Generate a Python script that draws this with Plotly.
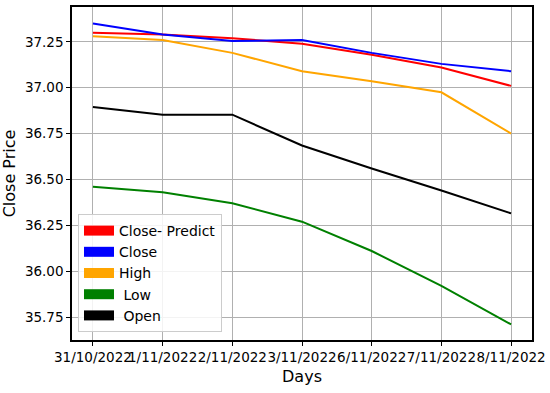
import plotly.graph_objects as go

days = ["31/10/2022", "1/11/2022", "2/11/2022", "3/11/2022",
        "6/11/2022", "7/11/2022", "8/11/2022"]

close_predict = [37.30, 37.29, 37.27, 37.24, 37.18, 37.11, 37.01]
close = [37.35, 37.29, 37.255, 37.26, 37.19, 37.13, 37.09]
high = [37.28, 37.26, 37.19, 37.09, 37.035, 36.975, 36.75]
low = [36.46, 36.43, 36.37, 36.27, 36.11, 35.92, 35.71]
open_ = [36.895, 36.853, 36.853, 36.685, 36.56, 36.44, 36.315]

y_ticks = [35.75, 36.00, 36.25, 36.50, 36.75, 37.00, 37.25]

series = [
    ("Close- Predict", close_predict, "red"),
    ("Close", close, "blue"),
    ("High", high, "orange"),
    (" Low", low, "green"),
    (" Open", open_, "black"),
]

x_idx = list(range(len(days)))

fig = go.Figure()

# plotted lines (legend handled by patch-like entries below)
for name, vals, color in series:
    fig.add_trace(go.Scatter(
        x=x_idx, y=vals, mode="lines", name=name,
        line=dict(color=color, width=2), showlegend=False,
    ))

# thick legend entries to imitate matplotlib patches
for name, vals, color in series:
    fig.add_trace(go.Scatter(
        x=[None], y=[None], mode="lines", name=name,
        line=dict(color=color, width=10),
    ))

fig.update_layout(
    width=550, height=393,
    margin=dict(l=72, r=18, t=7, b=53),
    plot_bgcolor="white", paper_bgcolor="white",
    font=dict(family="DejaVu Sans", size=13.5, color="black"),
    legend=dict(
        x=0.013, y=0.024, xanchor="left", yanchor="bottom",
        bgcolor="rgba(255,255,255,0.85)", bordercolor="#cccccc", borderwidth=1,
        font=dict(size=14), itemwidth=30, traceorder="normal",
        tracegroupgap=0,
    ),
)

fig.update_xaxes(
    range=[-0.3, 6.3], tickvals=x_idx, ticktext=days, tickangle=0,
    showgrid=True, gridcolor="#b0b0b0", gridwidth=1,
    showline=True, linecolor="black", linewidth=1.5, mirror=True,
    ticks="outside", ticklen=4, tickcolor="black",
    title=dict(text="Days", standoff=7), zeroline=False, automargin=False,
)
fig.update_yaxes(
    range=[35.625, 37.44], tickvals=y_ticks, tickformat=".2f",
    showgrid=True, gridcolor="#b0b0b0", gridwidth=1,
    showline=True, linecolor="black", linewidth=1.5, mirror=True,
    ticks="outside", ticklen=4, tickcolor="black",
    title=dict(text="Close Price", standoff=6), zeroline=False, automargin=False,
)

# drop the browser's default body margin so the 550x393 figure fits the window
fig.write_html(
    "out.html",
    config={"displayModeBar": False},
    post_script="document.body.style.margin='0';",
)
